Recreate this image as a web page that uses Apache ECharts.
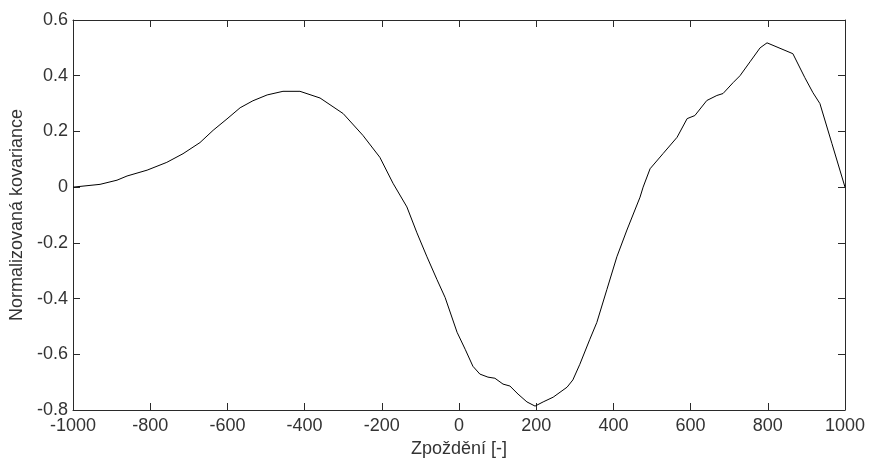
<!DOCTYPE html>
<html>
<head>
<meta charset="utf-8">
<script src="https://cdn.jsdelivr.net/npm/echarts@6/dist/echarts.min.js"></script>
<style>
html,body{margin:0;padding:0;background:#fff;}
#chart{width:869px;height:463px;}
</style>
</head>
<body>
<div id="chart"></div>
<script>
const lagX = [-1000,-930,-886,-860,-808,-757,-715,-671,-637,-601,-567,-534,-497,-456,-412,-360,-300,-249,-205,-171,-135,-109,-83,-57,-36,-5,16,36,54,75,93,114,132,153,176,197,218,244,280,295,313,339,357,383,409,435,469,477,495,529,565,591,611,642,668,684,710,728,754,780,798,865,896,917,935,966,1000];
const covY = [0,0.01,0.025,0.04,0.061,0.089,0.12,0.16,0.204,0.245,0.285,0.31,0.331,0.344,0.344,0.32,0.264,0.186,0.107,0.014,-0.071,-0.164,-0.25,-0.332,-0.396,-0.521,-0.582,-0.643,-0.671,-0.682,-0.686,-0.707,-0.714,-0.743,-0.771,-0.786,-0.771,-0.754,-0.718,-0.692,-0.636,-0.546,-0.486,-0.368,-0.25,-0.154,-0.036,0,0.066,0.121,0.179,0.246,0.257,0.311,0.329,0.336,0.375,0.4,0.45,0.5,0.518,0.479,0.393,0.339,0.3,0.157,0];
const xLabel = 'Zpoždění [-]';
const yLabel = 'Normalizovaná kovariance';

const font = 'Liberation Sans, Arial, sans-serif';
const lineCol = '#2a2a2a';
const textCol = '#333';
const data = lagX.map((x,i)=>[x,covY[i]]);

const chart = echarts.init(document.getElementById('chart'));
const baseX = {type:'value',min:-1000,max:1000,interval:200,splitLine:{show:false},
  axisLine:{onZero:false,lineStyle:{color:lineCol,width:1}},
  axisTick:{inside:true,length:7,lineStyle:{color:lineCol}}};
const baseY = {type:'value',min:-0.8,max:0.6,interval:0.2,splitLine:{show:false},
  axisLine:{onZero:false,lineStyle:{color:lineCol,width:1}},
  axisTick:{inside:true,length:7,lineStyle:{color:lineCol}}};
chart.setOption({
  animation:false,
  backgroundColor:'#fff',
  grid:{left:73,right:24,top:20,bottom:51},
  xAxis:[
    Object.assign({},baseX,{position:'bottom',name:xLabel,nameLocation:'middle',nameGap:30,
      nameTextStyle:{fontFamily:font,fontSize:18,color:textCol},
      axisLabel:{margin:7,fontFamily:font,fontSize:18,color:textCol,
        formatter:v=>String(Math.round(v))}}),
    Object.assign({},baseX,{position:'top',axisLabel:{show:false}})
  ],
  yAxis:[
    Object.assign({},baseY,{position:'left',name:yLabel,nameLocation:'middle',nameGap:44,
      nameTextStyle:{fontFamily:font,fontSize:18,color:textCol},
      axisLabel:{margin:5,fontFamily:font,fontSize:18,color:textCol,
        formatter:v=>{const r=Math.round(v*10)/10;return r===0?'0':String(r);}}}),
    Object.assign({},baseY,{position:'right',axisLabel:{show:false}})
  ],
  series:[{type:'line',data:data,xAxisIndex:0,yAxisIndex:0,showSymbol:false,
    lineStyle:{color:'#000',width:1},smooth:false}]
});
</script>
</body>
</html>
